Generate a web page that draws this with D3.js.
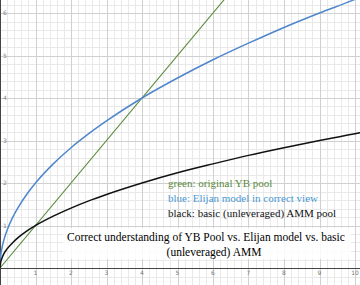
<!DOCTYPE html>
<html>
<head>
<meta charset="utf-8">
<script src="https://cdn.jsdelivr.net/npm/d3@7"></script>
<style>
  body { margin: 0; background: #fff; }
  svg { display: block; }
</style>
</head>
<body>
<div id="graph"></div>
<script>
// chart frame
const FRAME_WIDTH = 360;
const FRAME_HEIGHT = 285;
const AXIS_Y = 268; // pixel row of the x axis

// values
const X_VALUES = [0, 0.02, 0.05, 0.1, 0.2, 0.35, 0.5, 0.75, 1, 1.5, 2, 2.5, 3, 4, 5, 6, 7, 8, 9, 10, 10.2];
const BLUE_VALUES = [0, 0.28, 0.45, 0.63, 0.89, 1.18, 1.41, 1.73, 2.0, 2.45, 2.83, 3.16, 3.46, 4.0, 4.47, 4.9, 5.29, 5.66, 6.0, 6.32, 6.39];
const BLACK_VALUES = [0, 0.14, 0.22, 0.32, 0.45, 0.59, 0.71, 0.87, 1.0, 1.22, 1.41, 1.58, 1.73, 2.0, 2.24, 2.45, 2.65, 2.83, 3.0, 3.16, 3.19];
const GREEN_X = [0, 6.5];
const GREEN_VALUES = [0, 6.5];
const X_TICKS = [1, 2, 3, 4, 5, 6, 7, 8, 9, 10];
const Y_TICKS = [1, 2, 3, 4, 5, 6];

const LEGEND = [
  {text: "green: original YB pool", color: "#5b8a3c"},
  {text: "blue: Elijan model in correct view", color: "#4a98d2"},
  {text: "black: basic (unleveraged) AMM pool", color: "#111"}
];
const TITLE_LINES = ["Correct understanding of YB Pool vs. Elijan model vs. basic", "(unleveraged) AMM"];

const FRAME = d3.select("#graph")
  .append("svg")
    .attr("width", FRAME_WIDTH)
    .attr("height", FRAME_HEIGHT);

const X_SCALE = d3.scaleLinear().domain([0, 10]).range([0, 355]);
const Y_SCALE = d3.scaleLinear().domain([0, 4]).range([AXIS_Y, 98]);

FRAME.append("defs").append("clipPath").attr("id", "clip")
  .append("rect").attr("width", FRAME_WIDTH).attr("height", AXIS_Y);

// minor grid, 5 per unit
const minorX = d3.range(0, 10.3, 0.2);
const minorY = d3.range(-0.4, 6.5, 0.2);
FRAME.append("g").selectAll("line").data(minorX).join("line")
  .attr("x1", d => Math.round(X_SCALE(d)) + 0.5).attr("x2", d => Math.round(X_SCALE(d)) + 0.5)
  .attr("y1", 0).attr("y2", FRAME_HEIGHT)
  .attr("stroke", "#e9e9e9");
FRAME.append("g").selectAll("line").data(minorY).join("line")
  .attr("y1", d => Math.round(Y_SCALE(d)) + 0.5).attr("y2", d => Math.round(Y_SCALE(d)) + 0.5)
  .attr("x1", 0).attr("x2", FRAME_WIDTH)
  .attr("stroke", "#e9e9e9");

// major grid
FRAME.append("g").selectAll("line").data(X_TICKS).join("line")
  .attr("x1", d => Math.round(X_SCALE(d)) + 0.5).attr("x2", d => Math.round(X_SCALE(d)) + 0.5)
  .attr("y1", 0).attr("y2", FRAME_HEIGHT)
  .attr("stroke", "#d0d0d0");
FRAME.append("g").selectAll("line").data(Y_TICKS).join("line")
  .attr("y1", d => Math.round(Y_SCALE(d)) + 0.5).attr("y2", d => Math.round(Y_SCALE(d)) + 0.5)
  .attr("x1", 0).attr("x2", FRAME_WIDTH)
  .attr("stroke", "#d0d0d0");

// axes
FRAME.append("line").attr("x1", 0).attr("x2", FRAME_WIDTH)
  .attr("y1", AXIS_Y + 0.5).attr("y2", AXIS_Y + 0.5).attr("stroke", "#444");
FRAME.append("line").attr("x1", 0.5).attr("x2", 0.5)
  .attr("y1", 0).attr("y2", FRAME_HEIGHT).attr("stroke", "#444");

FRAME.append("g").selectAll("text").data(X_TICKS).join("text")
  .attr("x", d => X_SCALE(d)).attr("y", AXIS_Y + 7)
  .attr("text-anchor", "middle")
  .attr("font-family", "DejaVu Sans").attr("font-size", "6px").attr("fill", "#777")
  .text(d => d);
FRAME.append("g").selectAll("text").data(Y_TICKS).join("text")
  .attr("x", 3).attr("y", d => Y_SCALE(d) + 2)
  .attr("font-family", "DejaVu Sans").attr("font-size", "6px").attr("fill", "#888")
  .text(d => d);

// curves
const plot = FRAME.append("g").attr("clip-path", "url(#clip)");
const line = d3.line()
  .x(d => X_SCALE(d[0]))
  .y(d => Y_SCALE(d[1]))
  .curve(d3.curveMonotoneX);

plot.append("path").datum(d3.zip(GREEN_X, GREEN_VALUES))
  .attr("d", line).attr("fill", "none")
  .attr("stroke", "#5b8a3c").attr("stroke-width", 1.1);
plot.append("path").datum(d3.zip(X_VALUES, BLUE_VALUES))
  .attr("d", line).attr("fill", "none")
  .attr("stroke", "#4f86cc").attr("stroke-width", 1.5);
plot.append("path").datum(d3.zip(X_VALUES, BLACK_VALUES))
  .attr("d", line).attr("fill", "none")
  .attr("stroke", "#111").attr("stroke-width", 1.5);

// legend
FRAME.append("g").selectAll("text").data(LEGEND).join("text")
  .attr("x", 168).attr("y", (d, i) => 187 + i * 15)
  .attr("font-family", "Liberation Serif").attr("font-size", "11px")
  .attr("fill", d => d.color)
  .text(d => d.text);

// title box
FRAME.append("rect")
  .attr("x", 63).attr("y", 228).attr("width", 288).attr("height", 31)
  .attr("fill", "#fff").attr("fill-opacity", 0.85);
FRAME.append("g").selectAll("text").data(TITLE_LINES).join("text")
  .attr("x", (d, i) => i === 0 ? 67 : 214)
  .attr("y", (d, i) => 241 + i * 15)
  .attr("text-anchor", (d, i) => i === 0 ? "start" : "middle")
  .attr("font-family", "Liberation Serif").attr("font-size", "11.5px")
  .attr("fill", "#000")
  .text(d => d);
</script>
</body>
</html>
